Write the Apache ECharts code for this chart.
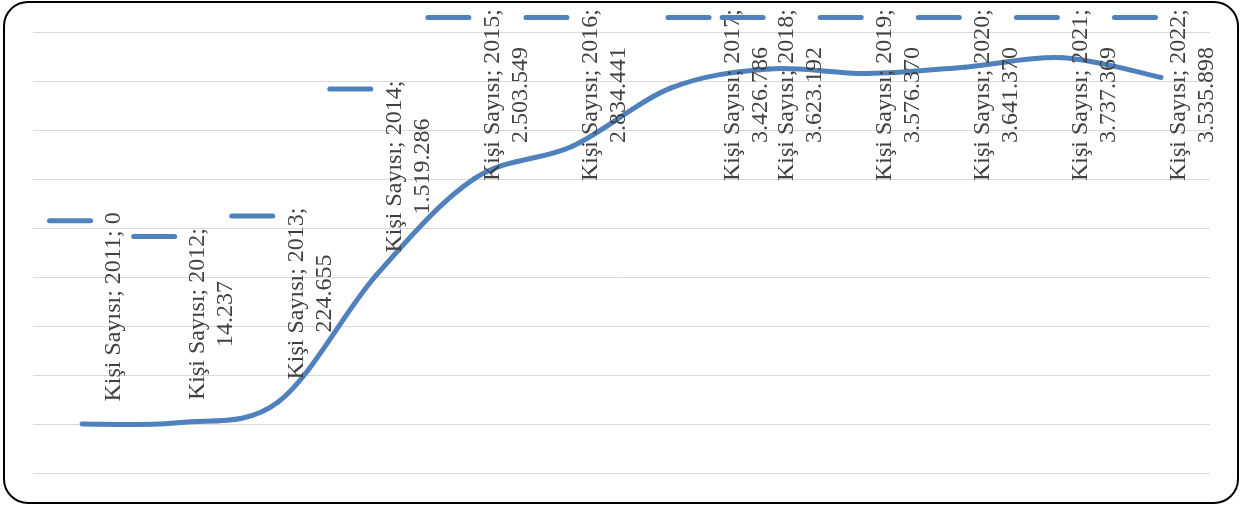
<!DOCTYPE html>
<html>
<head>
<meta charset="utf-8">
<script src="https://cdn.jsdelivr.net/npm/echarts@6/dist/echarts.min.js"></script>
<style>
  html, body { margin: 0; padding: 0; background: #ffffff; }
  #chart { width: 1244px; height: 506px; }
</style>
</head>
<body>
<div id="chart"></div>
<script>
// Yearly number of people
const seriesName = 'Kişi Sayısı';
const years = ['2011', '2012', '2013', '2014', '2015', '2016', '2017', '2018', '2019', '2020', '2021', '2022'];
const people = [0, 14237, 224655, 1519286, 2503549, 2834441, 3426786, 3623192, 3576370, 3641370, 3737369, 3535898];

// Value axis range (no tick labels are drawn, only the grid lines)
const yMin = -500000;
const yMax = 4000000;
const yStep = 500000;

const lineColor = '#4f81bd';
const textColor = '#404040';
const labelFamily = '"Liberation Serif", "Times New Roman", serif';
const labelSize = 24;
const labelMaxWidth = 200;   // longer labels wrap before the value
const labelTopLimit = 9;     // labels are kept inside the chart area
const labelShiftRight = 5.5;
const labelNudgeRight = { '2017': 44 };

// Turkish thousands separator
function formatValue(v) {
  return String(v).replace(/\B(?=(\d{3})+(?!\d))/g, '.');
}

const measureCtx = document.createElement('canvas').getContext('2d');
measureCtx.font = labelSize + 'px ' + labelFamily;

// Label = legend key line, then "name; category; value" (wrapped if too long)
function labelText(year, value) {
  const key = '{k|}{s|}';
  const single = seriesName + '; ' + year + '; ' + formatValue(value);
  if (measureCtx.measureText(single).width <= labelMaxWidth) {
    return key + '\n{t|' + single + '}';
  }
  return key + '\n{t|' + seriesName + '; ' + year + ';}\n{v|' + formatValue(value) + '}';
}

// Smoothed line: cardinal (Catmull-Rom) Bezier segments through the projected points
function renderSmoothLine(params, api) {
  const pts = people.map(function (v, i) { return api.coord([i, v]); });
  const n = pts.length;
  const children = [];
  for (let i = 0; i < n - 1; i++) {
    const p0 = pts[Math.max(i - 1, 0)];
    const p1 = pts[i];
    const p2 = pts[i + 1];
    const p3 = pts[Math.min(i + 2, n - 1)];
    children.push({
      type: 'bezierCurve',
      shape: {
        x1: p1[0], y1: p1[1],
        cpx1: p1[0] + (p2[0] - p0[0]) / 6, cpy1: p1[1] + (p2[1] - p0[1]) / 6,
        cpx2: p2[0] - (p3[0] - p1[0]) / 6, cpy2: p2[1] - (p3[1] - p1[1]) / 6,
        x2: p2[0], y2: p2[1]
      },
      style: { fill: 'none', stroke: lineColor, lineWidth: 5, lineCap: 'round', lineJoin: 'round' }
    });
  }
  return { type: 'group', children: children };
}

const chart = echarts.init(document.getElementById('chart'), null, { renderer: 'canvas' });

const textStyleBase = {
  fontFamily: labelFamily,
  fontSize: labelSize,
  color: textColor,
  lineHeight: 28
};

chart.setOption({
  animation: false,
  backgroundColor: '#ffffff',
  grid: { left: 33, right: 34, top: 32, bottom: 33, containLabel: false },
  xAxis: {
    type: 'category',
    data: years,
    boundaryGap: true,
    axisLine: { show: false },
    axisTick: { show: false },
    axisLabel: { show: false },
    splitLine: { show: false }
  },
  yAxis: {
    type: 'value',
    min: yMin,
    max: yMax,
    interval: yStep,
    axisLine: { show: false },
    axisTick: { show: false },
    axisLabel: { show: false },
    splitLine: { show: true, lineStyle: { color: '#d9d9d9', width: 1 } }
  },
  graphic: [{
    type: 'rect',
    z: 100,
    shape: { x: 4, y: 2, width: 1234, height: 501, r: 24 },
    style: { fill: null, stroke: '#000000', lineWidth: 2 },
    silent: true
  }],
  series: [{
    name: seriesName + ' (eğri)',
    type: 'custom',
    data: [0],
    silent: true,
    z: 2,
    renderItem: renderSmoothLine
  }, {
    name: seriesName,
    type: 'line',
    data: people,
    z: 3,
    symbol: 'circle',
    symbolSize: 1,
    showSymbol: true,
    itemStyle: { color: lineColor },
    lineStyle: { opacity: 0, width: 0 },
    label: {
      show: true,
      position: 'top',
      distance: 22,
      rotate: 90,
      align: 'left',
      verticalAlign: 'middle',
      formatter: function (p) { return labelText(years[p.dataIndex], p.value); },
      rich: {
        k: {
          width: 5, height: 46, lineHeight: 53, verticalAlign: 'top', align: 'right',
          backgroundColor: lineColor, borderRadius: 2.5
        },
        s: { width: 6, height: 1, lineHeight: 53, align: 'right' },
        t: Object.assign({ align: 'left' }, textStyleBase),
        v: Object.assign({ align: 'center' }, textStyleBase)
      }
    },
    labelLayout: function (params) {
      const r = params.labelRect;
      const down = Math.max(0, labelTopLimit - r.y);
      const right = labelShiftRight + (labelNudgeRight[years[params.dataIndex]] || 0);
      // offsets are applied in the rotated text frame
      return { dx: -down, dy: right };
    }
  }]
});
</script>
</body>
</html>
